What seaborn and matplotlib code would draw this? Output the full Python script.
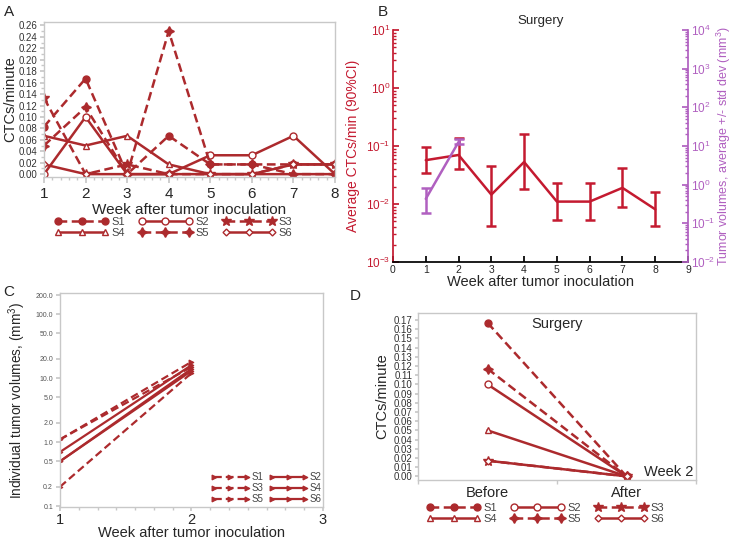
import numpy as np
import pandas as pd
import matplotlib
matplotlib.use("Agg")
import matplotlib.pyplot as plt
from matplotlib.ticker import AutoMinorLocator, FixedLocator, NullLocator, LogLocator
import seaborn as sns

sns.set_theme(style="white")
plt.rcParams["font.family"] = ["Liberation Sans", "DejaVu Sans"]
plt.rcParams["mathtext.fontset"] = "custom"
plt.rcParams["mathtext.rm"] = "Liberation Sans"
plt.rcParams["mathtext.it"] = "Liberation Sans:italic"

RED = "#ac2a2d"
B_RED = "#c41a30"
PURPLE = "#b060c0"
FRAME = "#c8c8c8"

# ---- data ----
samples = ["S1", "S2", "S3", "S4", "S5", "S6"]

# A: CTCs/minute per week
weeks = [1, 2, 3, 4, 5, 6, 7, 8]
ctc_s1 = [0.083, 0.167, 0.0, 0.067, 0.017, 0.017, 0.017, 0.017]
ctc_s2 = [0.0, 0.100, 0.0, 0.0, 0.033, 0.033, 0.067, 0.0]
ctc_s3 = [0.133, 0.0, 0.017, 0.0, 0.0, 0.0, 0.017, 0.017]
ctc_s4 = [0.067, 0.050, 0.067, 0.017, 0.0, 0.0, 0.0, 0.0]
ctc_s5 = [0.050, 0.117, 0.0, 0.250, 0.017, 0.017, 0.0, 0.0]
ctc_s6 = [0.017, 0.0, 0.0, 0.0, 0.0, 0.0, 0.017, 0.017]

# B: average CTCs/min (90% CI) and average tumor volume (+/- sd)
b_weeks = [1, 2, 3, 4, 5, 6, 7, 8]
ctc_mean = [0.057, 0.070, 0.0145, 0.053, 0.011, 0.011, 0.019, 0.0081]
ctc_lo = [0.034, 0.040, 0.0042, 0.018, 0.0052, 0.0052, 0.0088, 0.0042]
ctc_hi = [0.095, 0.135, 0.045, 0.16, 0.023, 0.023, 0.041, 0.016]
vol_weeks = [1, 2]
vol_mean = [0.43, 12.7]
vol_lo = [0.18, 11.0]
vol_hi = [0.80, 15.0]

# C: individual tumor volumes
c_weeks = [1, 2]
vol_s1 = [1.1, 18.0]
vol_s2 = [0.7, 16.0]
vol_s3 = [0.2, 12.0]
vol_s4 = [0.5, 13.0]
vol_s5 = [1.1, 15.0]
vol_s6 = [0.5, 14.0]
c_ticks = [0.1, 0.2, 0.5, 1, 2, 5, 10, 20, 50, 100, 200]
c_ticklabels = ["0.1", "0.2", "0.5", "1.0", "2.0", "5.0", "10.0", "20.0", "50.0", "100.0", "200.0"]

# D: before / after surgery
d_labels = ["Before", "After"]
before = [0.167, 0.100, 0.017, 0.050, 0.117, 0.017]
after = [0.0, 0.0, 0.0, 0.0, 0.0, 0.0]

ctc = dict(zip(samples, [ctc_s1, ctc_s2, ctc_s3, ctc_s4, ctc_s5, ctc_s6]))
vols = dict(zip(samples, [vol_s1, vol_s2, vol_s3, vol_s4, vol_s5, vol_s6]))

DASH = (0, (3.5, 1.8))
style = {
    "S1": dict(linestyle=DASH, marker="o", markersize=5, markerfacecolor=RED),
    "S2": dict(linestyle="-", marker="o", markersize=5, markerfacecolor="white"),
    "S3": dict(linestyle=DASH, marker="*", markersize=7, markerfacecolor=RED),
    "S4": dict(linestyle="-", marker="^", markersize=5, markerfacecolor="white"),
    "S5": dict(linestyle=DASH, marker=(4, 1, 0), markersize=7, markerfacecolor=RED),
    "S6": dict(linestyle="-", marker="D", markersize=3.5, markerfacecolor="white"),
}

W, H = 733, 540
fig = plt.figure(figsize=(W / 100, H / 100), dpi=100)


def px_axes(left, top, right, bottom):
    return fig.add_axes([left / W, 1 - bottom / H, (right - left) / W, (bottom - top) / H])


def frame(ax, color=FRAME):
    for s in ax.spines.values():
        s.set_visible(True)
        s.set_color(color)
        s.set_linewidth(1.0)


def sample_legend(ax, x, y, fs=8):
    h, l = ax.get_legend_handles_labels()
    order = [0, 3, 1, 4, 2, 5]
    ax.legend([h[i] for i in order], [l[i] for i in order], ncol=3, loc="upper left",
              bbox_to_anchor=(x / W, 1 - y / H), bbox_transform=fig.transFigure,
              frameon=False, handlelength=4.8, numpoints=3, columnspacing=1.2,
              handletextpad=0.3, labelspacing=0.1, fontsize=fs,
              borderpad=0, borderaxespad=0, labelcolor="#444444")


# ---- A ----
axA = px_axes(44, 22, 335, 177)
for s in samples:
    sns.lineplot(x=weeks, y=ctc[s], ax=axA, color=RED, lw=1.8, label=s, legend=False,
                 errorbar=None, markeredgecolor=RED, markeredgewidth=1.0, **style[s])
axA.set_xlim(1, 8)
axA.set_ylim(-0.005, 0.266)
axA.set_xticks(weeks)
axA.set_yticks(np.arange(0, 0.261, 0.02))
axA.set_yticklabels([f"{v:.2f}" for v in np.arange(0, 0.261, 0.02)])
axA.xaxis.set_minor_locator(AutoMinorLocator(5))
axA.yaxis.set_minor_locator(AutoMinorLocator(2))
frame(axA)
axA.tick_params(axis="y", which="major", labelsize=7, length=3, color=FRAME, left=True, labelcolor="#333333", pad=2)
axA.tick_params(axis="x", which="major", labelsize=11, length=4, color=FRAME, bottom=True, pad=3)
axA.tick_params(which="minor", length=2, color=FRAME, left=True, bottom=True)
axA.set_xlabel("Week after tumor inoculation", fontsize=11, labelpad=2)
axA.set_ylabel("CTCs/minute", fontsize=10.5, labelpad=1)
sample_legend(axA, 55, 217)

# ---- B ----
axB = px_axes(393, 30, 688, 262)
axB.set_yscale("log")
axB.set_ylim(1e-3, 1e1)
axB.set_xlim(0, 9)
yerr = [np.array(ctc_mean) - np.array(ctc_lo), np.array(ctc_hi) - np.array(ctc_mean)]
axB.errorbar(b_weeks, ctc_mean, yerr=yerr, fmt="none", ecolor=B_RED, elinewidth=1.8,
             capsize=3.5, capthick=1.8)
sns.lineplot(x=b_weeks, y=ctc_mean, ax=axB, color=B_RED, lw=1.8, legend=False, errorbar=None)
axB2 = axB.twinx()
axB2.set_yscale("log")
axB2.set_ylim(1e-2, 1e4)
verr = [np.array(vol_mean) - np.array(vol_lo), np.array(vol_hi) - np.array(vol_mean)]
axB2.errorbar(vol_weeks, vol_mean, yerr=verr, fmt="none", ecolor=PURPLE, elinewidth=1.8,
              capsize=3.5, capthick=1.8)
sns.lineplot(x=vol_weeks, y=vol_mean, ax=axB2, color=PURPLE, lw=1.8, legend=False, errorbar=None)
axB.set_xticks(range(10))
for a in (axB, axB2):
    a.spines["top"].set_visible(False)
axB.spines["right"].set_visible(False)
axB2.spines["left"].set_visible(False)
axB2.spines["bottom"].set_visible(False)
axB.spines["left"].set_color(B_RED)
axB.spines["bottom"].set_color("black")
axB2.spines["right"].set_color(PURPLE)
axB.yaxis.set_minor_locator(LogLocator(base=10, subs=np.arange(2, 10)))
axB2.yaxis.set_minor_locator(LogLocator(base=10, subs=np.arange(2, 10)))
axB.tick_params(axis="y", which="both", direction="in", color=B_RED, labelcolor=B_RED, left=True, labelsize=8.5, pad=2)
axB.tick_params(axis="y", which="major", length=4)
axB.tick_params(axis="y", which="minor", length=2)
axB.tick_params(axis="x", direction="in", length=4, color="black", bottom=True, labelsize=7.5, pad=2)
axB2.tick_params(axis="y", which="both", direction="in", color=PURPLE, labelcolor=PURPLE, right=True, labelsize=8.5, pad=2)
axB2.tick_params(axis="y", which="major", length=4)
axB2.tick_params(axis="y", which="minor", length=2)
axB.set_xlabel("Week after tumor inoculation", fontsize=10.5, labelpad=0)
axB.set_ylabel("Average CTCs/min (90%CI)", fontsize=10, color=B_RED, labelpad=4)
axB2.set_ylabel("Tumor volumes, average +/- std dev (mm$^3$)", fontsize=9, color=PURPLE, labelpad=0)
axB.set_title("Surgery", fontsize=9.5, pad=4)

# ---- C ----
axC = px_axes(60, 293, 323, 507)
for s in samples:
    st = style[s]
    sns.lineplot(x=c_weeks, y=vols[s], ax=axC, color=RED, lw=1.6, label=s, legend=False,
                 errorbar=None, linestyle=st["linestyle"], marker=">", markersize=3.5,
                 markerfacecolor=RED, markeredgecolor=RED, markeredgewidth=0.8)
axC.set_yscale("log")
axC.set_ylim(0.0965, 215)
axC.set_xlim(1, 3)
axC.yaxis.set_major_locator(FixedLocator(c_ticks))
axC.set_yticklabels(c_ticklabels)
axC.yaxis.set_minor_locator(NullLocator())
axC.set_xticks([1, 2, 3])
axC.xaxis.set_minor_locator(AutoMinorLocator(7))
frame(axC)
axC.tick_params(axis="y", which="major", labelsize=5, length=3, color=FRAME, left=True, labelcolor="#555555", pad=2)
axC.tick_params(axis="x", which="major", labelsize=10.5, length=3, color=FRAME, bottom=True, pad=1)
axC.tick_params(axis="x", which="minor", length=2, color=FRAME, bottom=True)
axC.set_xlabel("Week after tumor inoculation", fontsize=10.5, va="top")
axC.xaxis.set_label_coords(0.5, (507 - 526) / 214)
axC.set_ylabel("Individual tumor volumes, (mm$^3$)", fontsize=9.8, labelpad=5)
h, l = axC.get_legend_handles_labels()
order = [0, 2, 4, 1, 3, 5]
axC.legend([h[i] for i in order], [l[i] for i in order], ncol=2, loc="lower right",
           bbox_to_anchor=(322 / W, 1 - 504 / H), bbox_transform=fig.transFigure,
           frameon=False, handlelength=4.0, numpoints=3, columnspacing=0.6,
           handletextpad=0.2, labelspacing=0.1, fontsize=7, borderpad=0, borderaxespad=0,
           labelcolor="#444444")

# ---- D ----
axD = px_axes(418, 313, 696, 480)
for i, s in enumerate(samples):
    sns.lineplot(x=[0, 1], y=[before[i], after[i]], ax=axD, color=RED, lw=1.8, label=s,
                 legend=False, errorbar=None, markeredgecolor=RED, markeredgewidth=1.0, **style[s])
axD.set_xlim(-0.5, 1.5)
axD.set_ylim(-0.004, 0.1776)
axD.set_yticks(np.arange(0, 0.171, 0.01))
axD.set_yticklabels([f"{v:.2f}" for v in np.arange(0, 0.171, 0.01)])
axD.set_xticks([0, 1])
axD.set_xticklabels(d_labels)
axD.xaxis.set_minor_locator(FixedLocator([-0.5, 0.5, 1.5]))
frame(axD)
axD.tick_params(axis="y", which="major", labelsize=7, length=2, color=FRAME, left=True, labelcolor="#333333", pad=2)
axD.tick_params(axis="x", which="major", labelsize=10.5, length=0, pad=4)
axD.tick_params(axis="x", which="minor", length=3, color=FRAME, bottom=True)
axD.set_ylabel("CTCs/minute", fontsize=10.5, labelpad=3)
axD.text(0.5, 0.1655, "Surgery", ha="center", va="center", fontsize=10.5)
axD.text(1.48, 0.005, "Week 2", ha="right", va="center", fontsize=10.5)
sample_legend(axD, 427, 503)

# panel letters
for txt, x, y in [("A", 4, 12), ("B", 378, 12), ("C", 3, 292), ("D", 350, 296)]:
    fig.text(x / W, 1 - y / H, txt, fontsize=11, va="center", ha="left")

fig.savefig("out.png", dpi=100)
